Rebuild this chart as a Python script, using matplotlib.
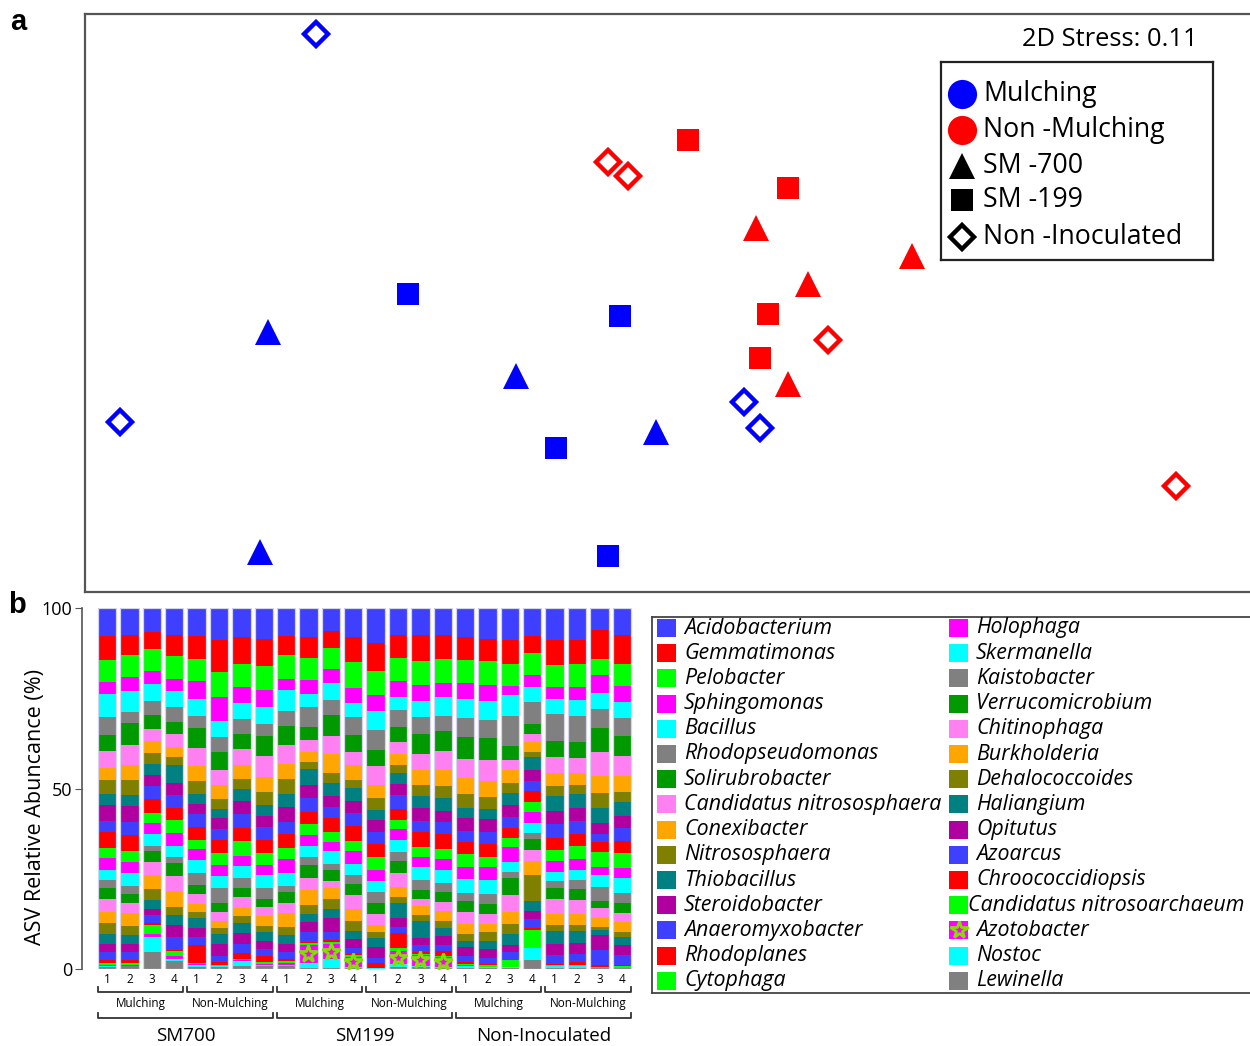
import numpy as np
import matplotlib
matplotlib.use('Agg')
import matplotlib.pyplot as plt
from matplotlib.lines import Line2D
from matplotlib.patches import Rectangle
from matplotlib.transforms import blended_transform_factory

plt.rcParams['font.family'] = ['Open Sans', 'DejaVu Sans']

W, H = 1250, 1046

# ---------- a: NMDS ordination (arbitrary NMDS units) ----------
m700_x = [-0.93, -0.31, 0.04, -0.95]
m700_y = [-0.08, -0.19, -0.33, -0.63]
m199_x = [-0.58, -0.05, -0.21, -0.08]
m199_y = [0.015, -0.04, -0.37, -0.64]
mni_x = [-0.81, -1.30, 0.26, 0.30]
mni_y = [0.665, -0.305, -0.255, -0.32]
n700_x = [0.29, 0.68, 0.42, 0.37]
n700_y = [0.18, 0.11, 0.04, -0.21]
n199_x = [0.12, 0.37, 0.32, 0.30]
n199_y = [0.40, 0.28, -0.035, -0.145]
nni_x = [-0.08, -0.03, 0.47, 1.34]
nni_y = [0.345, 0.31, -0.10, -0.465]
stress = 0.11

# ---------- b: relative abundance ----------
genera = ['Acidobacterium', 'Gemmatimonas', 'Pelobacter', 'Sphingomonas', 'Bacillus',
          'Rhodopseudomonas', 'Solirubrobacter', 'Candidatus nitrososphaera', 'Conexibacter',
          'Nitrososphaera', 'Thiobacillus', 'Steroidobacter', 'Anaeromyxobacter', 'Rhodoplanes',
          'Cytophaga', 'Holophaga', 'Skermanella', 'Kaistobacter', 'Verrucomicrobium',
          'Chitinophaga', 'Burkholderia', 'Dehalococcoides', 'Haliangium', 'Opitutus',
          'Azoarcus', 'Chroococcidiopsis', 'Candidatus nitrosoarchaeum', 'Azotobacter',
          'Nostoc', 'Lewinella']
palette = ['#3f3fff', '#ff0000', '#00ff00', '#ff00ff', '#00ffff', '#808080',
           '#009900', '#ff80f0', '#ffa500', '#808000', '#008080', '#b000a0']

# one row per replicate, values in the legend order (top of stack first)
sm700_m = [
    [7.8, 6.7, 6.0, 3.4, 6.2, 5.1, 4.4, 4.8, 3.3, 3.9, 3.0, 4.3, 3.2, 4.2, 3.0,
     3.3, 2.8, 2.1, 3.1, 3.5, 3.1, 3.0, 2.8, 2.3, 2.1, 0.9, 0.5, 0.3, 0.2, 0.6],
    [7.4, 5.5, 6.3, 3.7, 5.9, 3.2, 6.0, 5.4, 4.4, 4.1, 3.0, 4.4, 3.7, 4.3, 3.0,
     3.2, 3.7, 2.1, 2.6, 2.7, 3.5, 2.6, 2.5, 2.3, 2.1, 0.9, 0.4, 0.3, 0.2, 0.7],
    [6.6, 4.7, 6.0, 3.6, 4.9, 3.7, 3.9, 3.5, 3.2, 3.0, 3.0, 3.2, 3.5, 3.9, 2.6,
     3.2, 3.2, 1.6, 3.0, 3.6, 3.7, 3.0, 2.5, 1.9, 2.0, 0.6, 2.6, 0.7, 4.3, 4.6],
    [7.6, 5.6, 6.6, 3.2, 4.4, 4.2, 3.4, 3.5, 2.8, 2.2, 4.9, 3.4, 3.5, 3.5, 3.6,
     3.5, 3.0, 1.8, 3.5, 4.2, 4.3, 2.3, 2.8, 3.3, 3.6, 0.3, 1.4, 0.7, 0.6, 2.3],
]
sm700_nm = [
    [7.7, 6.5, 6.2, 4.9, 4.6, 3.6, 5.4, 5.1, 4.2, 3.4, 2.8, 3.0, 3.5, 3.6, 2.4,
     3.2, 3.6, 3.3, 2.5, 2.8, 2.3, 1.7, 2.8, 2.5, 2.0, 5.2, 0.3, 0.3, 0.5, 0.5],
    [9.0, 8.7, 6.9, 6.7, 4.4, 4.2, 5.0, 4.2, 3.9, 2.8, 2.3, 3.2, 3.0, 3.6, 3.2,
     3.2, 3.3, 4.2, 2.5, 2.3, 2.0, 1.7, 2.8, 3.2, 1.8, 0.9, 0.2, 0.1, 0.1, 0.6],
    [8.1, 7.3, 6.6, 4.3, 4.4, 4.1, 4.4, 4.3, 4.0, 2.8, 3.2, 3.7, 3.9, 3.5, 4.2,
     2.8, 3.4, 2.6, 2.6, 3.0, 2.1, 2.0, 2.8, 3.0, 2.5, 1.8, 0.2, 0.2, 1.5, 0.8],
    [8.6, 7.4, 6.8, 4.6, 4.6, 3.5, 5.5, 5.7, 4.2, 3.6, 3.0, 3.2, 3.4, 3.8, 3.1,
     3.0, 3.5, 3.0, 2.3, 2.3, 2.8, 1.7, 2.5, 2.3, 1.8, 1.8, 0.5, 0.2, 0.5, 0.7],
]
sm199_m = [
    [7.8, 5.3, 6.7, 3.0, 5.9, 4.0, 5.3, 5.4, 4.0, 4.2, 3.6, 4.2, 3.4, 4.0, 2.8,
     3.9, 3.7, 1.8, 3.0, 2.7, 3.8, 2.3, 2.5, 2.3, 2.0, 0.6, 0.5, 0.4, 0.5, 0.7],
    [8.1, 5.7, 6.2, 3.7, 3.8, 5.5, 3.6, 3.3, 2.7, 2.1, 4.3, 3.5, 3.9, 3.3, 3.1,
     3.2, 2.9, 2.2, 3.8, 3.2, 4.3, 2.3, 2.3, 2.8, 2.6, 0.4, 0.5, 4.9, 1.4, 0.4],
    [6.5, 4.6, 5.8, 3.9, 4.8, 4.2, 5.7, 5.1, 5.1, 2.8, 3.7, 3.0, 3.2, 3.7, 2.9,
     2.5, 3.5, 1.8, 3.0, 2.0, 3.0, 2.8, 2.5, 3.7, 2.4, 0.4, 0.6, 4.3, 2.3, 0.4],
    [8.1, 6.9, 7.1, 4.3, 3.8, 5.0, 4.9, 3.5, 4.3, 2.1, 3.7, 3.2, 3.7, 4.1, 2.9,
     3.6, 2.9, 2.7, 2.9, 3.9, 3.5, 2.7, 2.1, 2.6, 1.6, 0.3, 0.5, 2.8, 0.2, 0.4],
]
sm199_nm = [
    [9.7, 7.7, 6.8, 4.6, 5.2, 5.5, 4.5, 5.2, 3.6, 3.5, 2.6, 3.4, 3.4, 3.7, 3.5,
     3.2, 3.0, 3.0, 3.0, 3.2, 2.0, 1.6, 2.4, 3.0, 1.6, 1.2, 0.1, 0.1, 0.1, 0.1],
    [7.4, 6.5, 6.5, 4.2, 3.7, 4.9, 4.1, 3.2, 3.2, 2.1, 3.2, 3.0, 3.8, 3.2, 2.5,
     3.0, 3.2, 2.6, 3.2, 3.9, 3.0, 1.7, 4.1, 2.4, 1.6, 4.2, 0.9, 3.7, 0.7, 0.6],
    [7.6, 7.2, 6.5, 4.6, 4.4, 4.8, 5.3, 4.6, 4.2, 3.0, 3.4, 3.5, 3.2, 3.9, 2.8,
     2.9, 3.6, 2.9, 2.3, 2.0, 2.6, 1.6, 4.6, 2.0, 2.1, 0.5, 0.2, 3.0, 0.3, 0.6],
    [7.6, 6.5, 6.6, 4.1, 5.1, 4.2, 5.5, 5.5, 4.4, 3.4, 3.5, 3.0, 3.4, 4.2, 2.8,
     3.0, 3.6, 2.6, 2.8, 2.5, 2.8, 1.8, 2.3, 2.3, 1.9, 1.4, 0.2, 2.8, 0.1, 0.4],
]
ni_m = [
    [8.0, 6.6, 6.2, 4.4, 5.5, 5.3, 6.0, 5.4, 4.3, 3.9, 2.9, 3.6, 3.0, 3.5, 3.4,
     3.4, 4.0, 2.3, 2.8, 3.5, 2.7, 2.1, 1.6, 2.6, 1.6, 0.5, 0.3, 0.2, 0.5, 0.4],
    [8.6, 6.0, 6.8, 4.4, 5.4, 4.8, 6.3, 5.7, 4.4, 3.4, 2.8, 3.7, 3.2, 3.7, 2.8,
     3.5, 3.9, 2.8, 2.8, 2.8, 2.3, 2.3, 2.3, 2.6, 1.6, 0.3, 0.5, 0.1, 0.1, 0.4],
    [9.0, 6.5, 6.1, 2.7, 5.8, 8.3, 3.7, 3.0, 3.4, 3.0, 3.2, 3.5, 3.0, 2.8, 2.5,
     4.2, 2.6, 1.8, 4.6, 4.9, 3.2, 2.8, 3.0, 2.0, 2.1, 0.2, 1.8, 0.1, 0.1, 0.4],
    [7.8, 4.8, 6.1, 3.1, 4.2, 6.2, 2.8, 2.3, 2.6, 1.4, 3.6, 3.0, 3.0, 3.0, 2.8,
     3.0, 2.8, 1.7, 3.0, 3.0, 4.0, 7.1, 2.8, 2.3, 2.5, 0.5, 4.9, 0.1, 3.3, 2.5],
]
ni_nm = [
    [9.0, 6.9, 6.0, 3.3, 4.3, 7.4, 4.6, 4.3, 3.7, 2.8, 4.2, 3.5, 4.0, 3.1, 3.3,
     3.0, 2.5, 1.9, 3.1, 4.0, 3.2, 1.6, 3.7, 2.9, 2.5, 0.5, 0.2, 0.1, 0.4, 0.3],
    [9.0, 6.6, 6.2, 3.7, 4.4, 7.4, 4.3, 4.3, 3.2, 2.6, 3.9, 3.5, 3.7, 3.2, 3.7,
     3.0, 2.7, 2.6, 3.0, 3.9, 3.0, 1.8, 3.3, 3.0, 2.3, 0.9, 0.2, 0.1, 0.4, 0.3],
    [6.0, 8.3, 4.4, 4.8, 4.6, 5.3, 6.7, 6.7, 4.6, 4.1, 4.2, 3.0, 2.3, 2.8, 4.2,
     2.3, 3.2, 4.0, 1.8, 2.8, 2.5, 0.9, 1.4, 4.2, 4.2, 0.5, 0.1, 0.1, 0.1, 0.2],
    [7.6, 8.1, 6.0, 4.6, 4.3, 5.1, 5.6, 5.4, 4.4, 3.0, 3.7, 3.5, 3.7, 3.2, 4.2,
     2.8, 4.2, 2.8, 2.6, 2.5, 2.8, 1.6, 2.1, 2.8, 2.8, 0.4, 0.3, 0.1, 0.1, 0.2],
]
replicates = ['1', '2', '3', '4']
mulch_labels = ['Mulching', 'Non-Mulching']
inoc_labels = ['SM700', 'SM199', 'Non-Inoculated']

fig = plt.figure(figsize=(W / 100, H / 100), dpi=100)


def fx(px):
    return px / W


def fy(py):
    return 1 - py / H


def pixel_axes(x0, y0, x1, y1):
    # axes whose data coordinates are figure pixels measured from its top-left corner
    a = fig.add_axes([fx(x0), fy(y1), (x1 - x0) / W, (y1 - y0) / H])
    a.set_xlim(0, x1 - x0)
    a.set_ylim(y1 - y0, 0)
    a.set_xticks([])
    a.set_yticks([])
    return a


# ===== panel a =====
ax = fig.add_axes([fx(85), fy(592), fx(1260 - 85), (592 - 14) / H])
blue, red = '#0000ff', '#ff0000'
sets = [
    (m700_x, m700_y, blue, '^'), (m199_x, m199_y, blue, 's'), (mni_x, mni_y, blue, 'D'),
    (n700_x, n700_y, red, '^'), (n199_x, n199_y, red, 's'), (nni_x, nni_y, red, 'D'),
]
for xs, ys, c, mk in sets:
    if mk == 'D':
        ax.plot(xs, ys, ls='none', marker='D', ms=12, mfc='white', mec=c, mew=3.2)
    elif mk == 's':
        ax.plot(xs, ys, ls='none', marker='s', ms=16, mfc=c, mec=c, mew=0)
    else:
        ax.plot(xs, ys, ls='none', marker='^', ms=19, mfc=c, mec=c, mew=0)
ax.set_xlim(-1.3875, 1.55)
ax.set_ylim(-0.73, 0.715)
ax.set_xticks([])
ax.set_yticks([])
for s in ax.spines.values():
    s.set_color('#555555')
    s.set_linewidth(1.6)

# legend of panel a, drawn by hand in a small pixel axes
gax = pixel_axes(941, 62, 1213, 260)
for s in gax.spines.values():
    s.set_color('#222222')
    s.set_linewidth(1.6)
leg_markers = [('o', blue, blue, 21), ('o', red, red, 21), ('^', 'black', 'black', 19),
               ('s', 'black', 'black', 16), ('D', 'white', 'black', 12)]
leg_labels = ['Mulching', 'Non -Mulching', 'SM -700', 'SM -199', 'Non -Inoculated']
leg_rows = [32, 68, 104, 138, 175]
for (mk, fc, ec, ms), lab, yr in zip(leg_markers, leg_labels, leg_rows):
    mew = 3.2 if mk == 'D' else 0
    gax.plot(21, yr, marker=mk, ms=ms, mfc=fc, mec=ec, mew=mew, clip_on=False)
    gax.text(42, yr, lab, fontsize=19.2, va='center', ha='left')

fig.text(fx(1198), fy(39), f'2D Stress: {stress}', ha='right', va='center', fontsize=18.4)
fig.text(fx(10), fy(22), 'a', fontsize=21, fontweight='bold', va='center',
         family='Liberation Sans')

# ===== panel b =====
groups = [sm700_m, sm700_nm, sm199_m, sm199_nm, ni_m, ni_nm]
data = np.array([row for g in groups for row in g], dtype=float)
data = data / data.sum(axis=1, keepdims=True) * 100
n = data.shape[0]
x = np.arange(n)
colors = [palette[i % len(palette)] for i in range(len(genera))]

left_px, right_px = 82, 633
bx = fig.add_axes([fx(left_px), fy(969), (right_px - left_px) / W, (969 - 608) / H])
bottom = np.zeros(n)
bw = 0.82
azoto = genera.index('Azotobacter')
for k in range(len(genera) - 1, -1, -1):
    bx.bar(x, data[:, k], bottom=bottom, width=bw, color=colors[k], linewidth=0)
    if k == azoto:
        mid = bottom + data[:, k] / 2
        big = data[:, k] > 2
        bx.plot(x[big], mid[big], ls='none', marker='*', ms=13, mfc=palette[3],
                mec='#80e000', mew=2.0, zorder=4)
    bottom += data[:, k]
bx.bar(x, bottom, width=bw, fill=False, edgecolor='#d4d4ec', linewidth=0.9, zorder=3)

bx.set_xlim(-1.12, 23.5)
bx.set_ylim(0, 100)
bx.set_yticks([0, 50, 100])
bx.tick_params(axis='y', labelsize=13, length=5, color='#555555', pad=2)
bx.set_xticks(x, replicates * (n // 4))
bx.tick_params(axis='x', length=0, labelsize=8.5, pad=3)
for s in ['top', 'right', 'bottom']:
    bx.spines[s].set_visible(False)
bx.spines['left'].set_color('#555555')
bx.spines['left'].set_linewidth(1.2)
bx.set_ylabel('ASV Relative Abuncance (%)', fontsize=15.5)
bx.yaxis.set_label_coords(-0.066, 0.45)
fig.text(fx(8), fy(605), 'b', fontsize=21, fontweight='bold', va='center',
         family='Liberation Sans')

tr = blended_transform_factory(bx.transData, fig.transFigure)


def bracket(x0, x1, ypx):
    y = fy(ypx)
    dy = 5 / H
    bx.add_line(Line2D([x0, x0, x1, x1], [y + dy, y, y, y + dy], transform=tr,
                       color='#333333', lw=1.3, clip_on=False))


for j in range(6):
    x0 = j * 4 - bw / 2
    x1 = j * 4 + 3 + bw / 2
    bracket(x0, x1, 992)
    bx.text((x0 + x1) / 2, fy(1003), mulch_labels[j % 2], transform=tr,
            ha='center', va='center', fontsize=8.5)
for j in range(3):
    x0 = j * 8 - bw / 2
    x1 = j * 8 + 7 + bw / 2
    bracket(x0, x1, 1018)
    bx.text((x0 + x1) / 2, fy(1036), inoc_labels[j], transform=tr,
            ha='center', va='center', fontsize=13.5)

# legend box for panel b
lax = pixel_axes(652, 617, 1260, 993)
for s in lax.spines.values():
    s.set_color('#444444')
    s.set_linewidth(1.3)
lax.spines['right'].set_visible(False)
text_shift = {'Candidatus nitrosoarchaeum': -8}
for i, name in enumerate(genera):
    col, row = divmod(i, 15)
    yc = 11 + row * 25.2
    px = 5 if col == 0 else 297
    lax.add_patch(Rectangle((px, yc - 9), 19, 18, color=colors[i], lw=0))
    if i == azoto:
        lax.plot(px + 9.5, yc, marker='*', ms=13, mfc=palette[3], mec='#80e000', mew=2.0)
    tx = px + 27 + text_shift.get(name, 0)
    lax.text(tx, yc, name, style='italic', fontsize=15.4, va='center', ha='left')

fig.savefig('out.png', dpi=100)
